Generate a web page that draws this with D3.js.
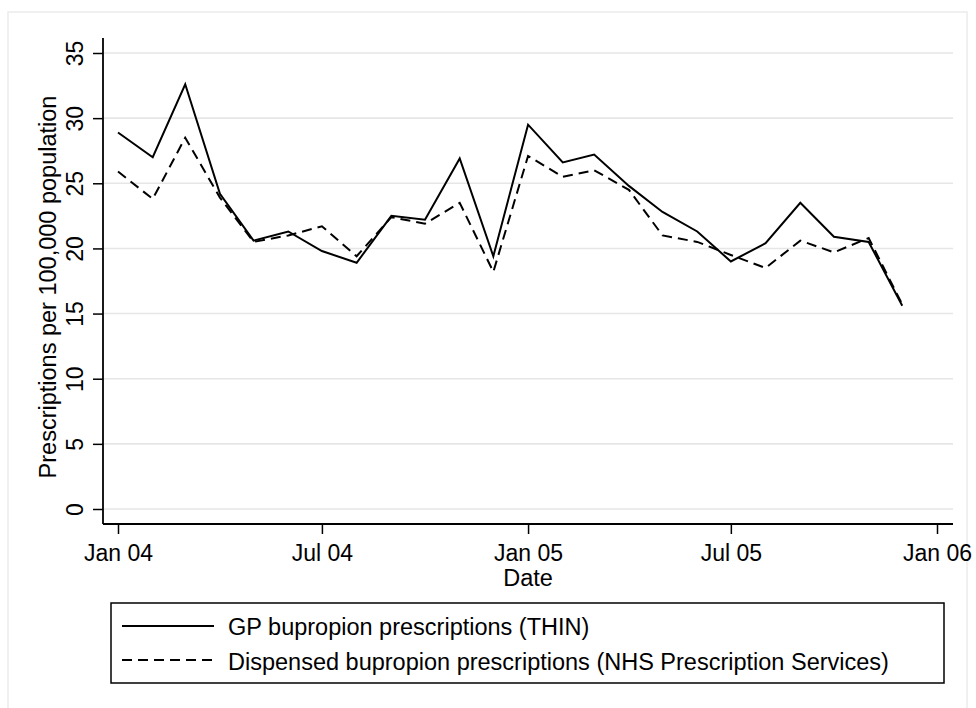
<!DOCTYPE html>
<html>
<head>
<meta charset="utf-8">
<script src="https://cdn.jsdelivr.net/npm/d3@7"></script>
<style>
  body { margin: 0; background: #fff; }
  text { font-family: "Liberation Sans", Arial, sans-serif; fill: #000; }
</style>
</head>
<body>
<div id="chart"></div>
<script>
// monthly figures, Jan 2004 - Dec 2005
var months = ['2004-01','2004-02','2004-03','2004-04','2004-05','2004-06','2004-07','2004-08','2004-09','2004-10','2004-11','2004-12',
              '2005-01','2005-02','2005-03','2005-04','2005-05','2005-06','2005-07','2005-08','2005-09','2005-10','2005-11','2005-12'];
var gpThin = [28.9, 27.0, 32.6, 24.2, 20.6, 21.3, 19.8, 18.9, 22.5, 22.2, 26.9, 19.4,
              29.5, 26.6, 27.2, 24.8, 22.8, 21.3, 19.0, 20.4, 23.5, 20.9, 20.5, 15.6];
var nhsDispensed = [25.9, 23.8, 28.5, 23.9, 20.5, 21.0, 21.7, 19.4, 22.4, 21.9, 23.5, 18.2,
                    27.1, 25.5, 26.0, 24.5, 21.0, 20.5, 19.5, 18.5, 20.6, 19.7, 20.8, 15.7];
var yTicks = [0, 5, 10, 15, 20, 25, 30, 35];
var xTicks = ['2004-01','2004-07','2005-01','2005-07','2006-01'];
var seriesNames = ['GP bupropion prescriptions (THIN)', 'Dispensed bupropion prescriptions (NHS Prescription Services)'];

var W = 976, H = 708;
var parse = d3.timeParse('%Y-%m');
var dash = '10,6';

var svg = d3.select('#chart').append('svg')
    .attr('width', W)
    .attr('height', H);

// faint outer frame
svg.append('rect')
    .attr('x', 8).attr('y', 12)
    .attr('width', 959).attr('height', 710)
    .attr('fill', 'none')
    .attr('stroke', '#ececec')
    .attr('stroke-width', 1.5);

var x = d3.scaleTime()
    .domain([parse('2004-01'), parse('2006-01')])
    .range([118, 937]);
var y = d3.scaleLinear()
    .domain([0, 35])
    .range([509, 53]);

var plotLeft = 103, plotRight = 953, axisY = 524;

// gridlines
svg.append('g').selectAll('line')
    .data(yTicks)
    .enter().append('line')
    .attr('x1', plotLeft).attr('x2', plotRight)
    .attr('y1', function (d) { return y(d); })
    .attr('y2', function (d) { return y(d); })
    .attr('stroke', '#e6e6e6')
    .attr('stroke-width', 1.6);

// y axis
var yAxis = svg.append('g')
    .attr('transform', 'translate(' + plotLeft + ',0)')
    .call(d3.axisLeft(y).tickValues(yTicks).tickSize(10).tickSizeOuter(0));
yAxis.select('.domain').attr('d', 'M0,38V' + axisY).attr('stroke', '#000').attr('stroke-width', 1.8);
yAxis.selectAll('.tick line').attr('stroke', '#000').attr('stroke-width', 1.5);
yAxis.selectAll('.tick text')
    .attr('x', null).attr('dy', null)
    .attr('transform', 'translate(-20,0) rotate(-90)')
    .attr('text-anchor', 'middle')
    .style('font-size', '23px');

// x axis
var xAxis = svg.append('g')
    .attr('transform', 'translate(0,' + axisY + ')')
    .call(d3.axisBottom(x)
        .tickValues(xTicks.map(parse))
        .tickFormat(d3.timeFormat('%b %y'))
        .tickSize(10).tickSizeOuter(0));
xAxis.select('.domain').attr('d', 'M' + plotLeft + ',0H' + plotRight).attr('stroke', '#000').attr('stroke-width', 1.8);
xAxis.selectAll('.tick line').attr('stroke', '#000').attr('stroke-width', 1.5);
xAxis.selectAll('.tick text')
    .attr('y', 37).attr('dy', null)
    .style('font-size', '23px');
svg.selectAll('.tick text').attr('fill', '#000').style('font-family', '"Liberation Sans", Arial, sans-serif');

// axis titles
svg.append('text')
    .attr('x', 528).attr('y', 586)
    .attr('text-anchor', 'middle')
    .style('font-size', '23.5px')
    .text('Date');
svg.append('text')
    .attr('transform', 'translate(56,287) rotate(-90)')
    .attr('text-anchor', 'middle')
    .style('font-size', '23.5px')
    .text('Prescriptions per 100,000 population');

// lines
var line = d3.line()
    .x(function (d) { return x(d.date); })
    .y(function (d) { return y(d.val); });

var gpData = months.map(function (m, i) { return {date: parse(m), val: gpThin[i]}; });
var nhsData = months.map(function (m, i) { return {date: parse(m), val: nhsDispensed[i]}; });

svg.append('path')
    .datum(nhsData)
    .attr('d', line)
    .attr('fill', 'none')
    .attr('stroke', '#000')
    .attr('stroke-width', 2)
    .attr('stroke-dasharray', dash);
svg.append('path')
    .datum(gpData)
    .attr('d', line)
    .attr('fill', 'none')
    .attr('stroke', '#000')
    .attr('stroke-width', 2);

// legend
var legend = svg.append('g');
legend.append('rect')
    .attr('x', 111).attr('y', 603)
    .attr('width', 833).attr('height', 80)
    .attr('fill', '#fff')
    .attr('stroke', '#000')
    .attr('stroke-width', 1.5);
var rows = [{name: seriesNames[0], dash: null, ly: 626, ty: 635},
            {name: seriesNames[1], dash: dash, ly: 660, ty: 670}];
rows.forEach(function (r) {
    legend.append('line')
        .attr('x1', 122).attr('x2', 214)
        .attr('y1', r.ly).attr('y2', r.ly)
        .attr('stroke', '#000')
        .attr('stroke-width', 2)
        .attr('stroke-dasharray', r.dash);
    legend.append('text')
        .attr('x', 228).attr('y', r.ty)
        .style('font-size', '23.5px')
        .text(r.name);
});
</script>
</body>
</html>
